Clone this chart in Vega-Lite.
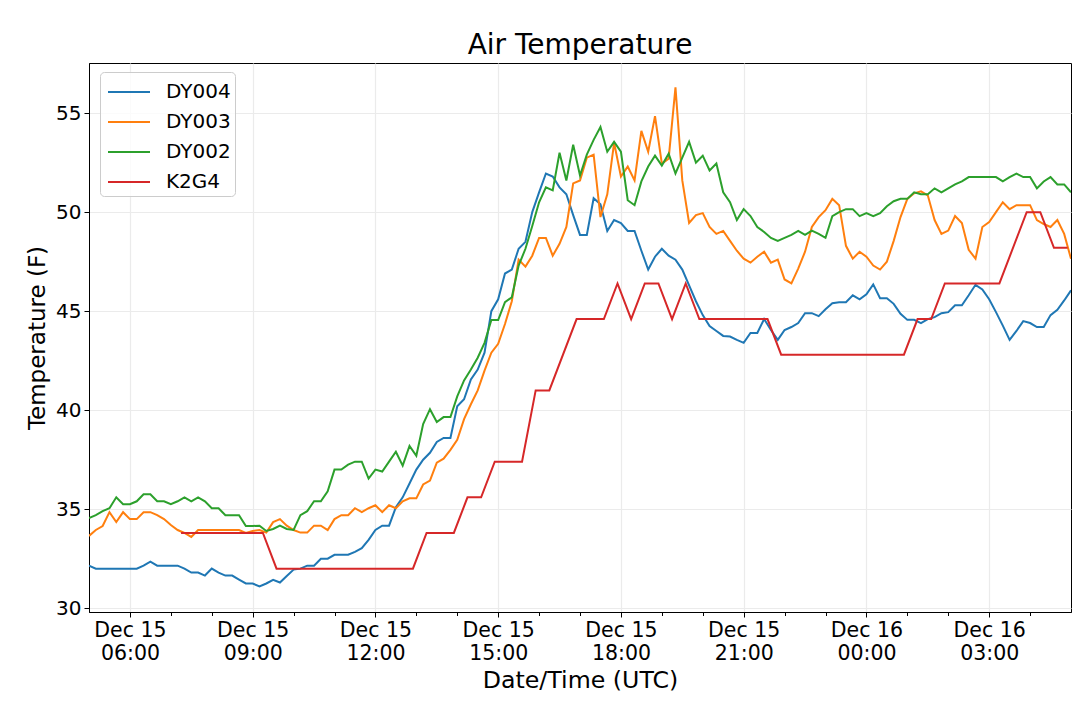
{
  "$schema": "https://vega.github.io/schema/vega-lite/v6.json",
  "width": 982,
  "height": 549,
  "autosize": {"type": "none"},
  "padding": {"left": 89, "top": 63, "right": 9, "bottom": 91},
  "background": "white",
  "title": {"text": "Air Temperature", "fontSize": 28, "fontWeight": "normal", "color": "black", "offset": 3, "anchor": "middle"},
  "data": {
    "format": {"parse": {"t": "utc:'%m-%d %H:%M'"}},
    "values": [
      {"s":"DY004","t":"12-15 05:00","v":32.15},{"s":"DY004","t":"12-15 05:10","v":32.0},{"s":"DY004","t":"12-15 05:20","v":32.0},{"s":"DY004","t":"12-15 05:30","v":32.0},{"s":"DY004","t":"12-15 05:40","v":32.0},{"s":"DY004","t":"12-15 05:50","v":32.0},
      {"s":"DY004","t":"12-15 06:00","v":32.0},{"s":"DY004","t":"12-15 06:10","v":32.0},{"s":"DY004","t":"12-15 06:20","v":32.15},{"s":"DY004","t":"12-15 06:30","v":32.35},{"s":"DY004","t":"12-15 06:40","v":32.15},{"s":"DY004","t":"12-15 06:50","v":32.15},
      {"s":"DY004","t":"12-15 07:00","v":32.15},{"s":"DY004","t":"12-15 07:10","v":32.15},{"s":"DY004","t":"12-15 07:20","v":32.0},{"s":"DY004","t":"12-15 07:30","v":31.8},{"s":"DY004","t":"12-15 07:40","v":31.8},{"s":"DY004","t":"12-15 07:50","v":31.65},
      {"s":"DY004","t":"12-15 08:00","v":32.0},{"s":"DY004","t":"12-15 08:10","v":31.8},{"s":"DY004","t":"12-15 08:20","v":31.65},{"s":"DY004","t":"12-15 08:30","v":31.65},{"s":"DY004","t":"12-15 08:40","v":31.45},{"s":"DY004","t":"12-15 08:50","v":31.25},
      {"s":"DY004","t":"12-15 09:00","v":31.25},{"s":"DY004","t":"12-15 09:10","v":31.1},{"s":"DY004","t":"12-15 09:20","v":31.25},{"s":"DY004","t":"12-15 09:30","v":31.43},{"s":"DY004","t":"12-15 09:40","v":31.3},{"s":"DY004","t":"12-15 09:50","v":31.63},
      {"s":"DY004","t":"12-15 10:00","v":31.95},{"s":"DY004","t":"12-15 10:10","v":32.0},{"s":"DY004","t":"12-15 10:20","v":32.15},{"s":"DY004","t":"12-15 10:30","v":32.15},{"s":"DY004","t":"12-15 10:40","v":32.5},{"s":"DY004","t":"12-15 10:50","v":32.5},
      {"s":"DY004","t":"12-15 11:00","v":32.7},{"s":"DY004","t":"12-15 11:10","v":32.7},{"s":"DY004","t":"12-15 11:20","v":32.7},{"s":"DY004","t":"12-15 11:30","v":32.85},{"s":"DY004","t":"12-15 11:40","v":33.03},{"s":"DY004","t":"12-15 11:50","v":33.45},
      {"s":"DY004","t":"12-15 12:00","v":33.95},{"s":"DY004","t":"12-15 12:10","v":34.17},{"s":"DY004","t":"12-15 12:20","v":34.17},{"s":"DY004","t":"12-15 12:30","v":35.1},{"s":"DY004","t":"12-15 12:40","v":35.6},{"s":"DY004","t":"12-15 12:50","v":36.3},
      {"s":"DY004","t":"12-15 13:00","v":37.0},{"s":"DY004","t":"12-15 13:10","v":37.5},{"s":"DY004","t":"12-15 13:20","v":37.85},{"s":"DY004","t":"12-15 13:30","v":38.4},{"s":"DY004","t":"12-15 13:40","v":38.6},{"s":"DY004","t":"12-15 13:50","v":38.6},
      {"s":"DY004","t":"12-15 14:00","v":40.2},{"s":"DY004","t":"12-15 14:10","v":40.55},{"s":"DY004","t":"12-15 14:20","v":41.55},{"s":"DY004","t":"12-15 14:30","v":42.05},{"s":"DY004","t":"12-15 14:40","v":42.9},{"s":"DY004","t":"12-15 14:50","v":45.0},
      {"s":"DY004","t":"12-15 15:00","v":45.6},{"s":"DY004","t":"12-15 15:10","v":46.9},{"s":"DY004","t":"12-15 15:20","v":47.1},{"s":"DY004","t":"12-15 15:30","v":48.15},{"s":"DY004","t":"12-15 15:40","v":48.5},{"s":"DY004","t":"12-15 15:50","v":50.0},
      {"s":"DY004","t":"12-15 16:00","v":51.0},{"s":"DY004","t":"12-15 16:10","v":51.95},{"s":"DY004","t":"12-15 16:20","v":51.8},{"s":"DY004","t":"12-15 16:30","v":51.25},{"s":"DY004","t":"12-15 16:40","v":50.9},{"s":"DY004","t":"12-15 16:50","v":49.85},
      {"s":"DY004","t":"12-15 17:00","v":48.85},{"s":"DY004","t":"12-15 17:10","v":48.85},{"s":"DY004","t":"12-15 17:20","v":50.7},{"s":"DY004","t":"12-15 17:30","v":50.4},{"s":"DY004","t":"12-15 17:40","v":49.05},{"s":"DY004","t":"12-15 17:50","v":49.6},
      {"s":"DY004","t":"12-15 18:00","v":49.45},{"s":"DY004","t":"12-15 18:10","v":49.05},{"s":"DY004","t":"12-15 18:20","v":49.05},{"s":"DY004","t":"12-15 18:30","v":48.05},{"s":"DY004","t":"12-15 18:40","v":47.1},{"s":"DY004","t":"12-15 18:50","v":47.75},
      {"s":"DY004","t":"12-15 19:00","v":48.15},{"s":"DY004","t":"12-15 19:10","v":47.8},{"s":"DY004","t":"12-15 19:20","v":47.6},{"s":"DY004","t":"12-15 19:30","v":47.1},{"s":"DY004","t":"12-15 19:40","v":46.3},{"s":"DY004","t":"12-15 19:50","v":45.5},
      {"s":"DY004","t":"12-15 20:00","v":44.8},{"s":"DY004","t":"12-15 20:10","v":44.25},{"s":"DY004","t":"12-15 20:20","v":44.0},{"s":"DY004","t":"12-15 20:30","v":43.75},{"s":"DY004","t":"12-15 20:40","v":43.72},{"s":"DY004","t":"12-15 20:50","v":43.55},
      {"s":"DY004","t":"12-15 21:00","v":43.4},{"s":"DY004","t":"12-15 21:10","v":43.9},{"s":"DY004","t":"12-15 21:20","v":43.9},{"s":"DY004","t":"12-15 21:30","v":44.6},{"s":"DY004","t":"12-15 21:40","v":44.05},{"s":"DY004","t":"12-15 21:50","v":43.55},
      {"s":"DY004","t":"12-15 22:00","v":44.05},{"s":"DY004","t":"12-15 22:10","v":44.2},{"s":"DY004","t":"12-15 22:20","v":44.4},{"s":"DY004","t":"12-15 22:30","v":44.9},{"s":"DY004","t":"12-15 22:40","v":44.9},{"s":"DY004","t":"12-15 22:50","v":44.75},
      {"s":"DY004","t":"12-15 23:00","v":45.1},{"s":"DY004","t":"12-15 23:10","v":45.4},{"s":"DY004","t":"12-15 23:20","v":45.45},{"s":"DY004","t":"12-15 23:30","v":45.45},{"s":"DY004","t":"12-15 23:40","v":45.8},{"s":"DY004","t":"12-15 23:50","v":45.6},
      {"s":"DY004","t":"12-16 00:00","v":45.85},{"s":"DY004","t":"12-16 00:10","v":46.35},{"s":"DY004","t":"12-16 00:20","v":45.65},{"s":"DY004","t":"12-16 00:30","v":45.65},{"s":"DY004","t":"12-16 00:40","v":45.37},{"s":"DY004","t":"12-16 00:50","v":44.87},
      {"s":"DY004","t":"12-16 01:00","v":44.56},{"s":"DY004","t":"12-16 01:10","v":44.56},{"s":"DY004","t":"12-16 01:20","v":44.4},{"s":"DY004","t":"12-16 01:30","v":44.6},{"s":"DY004","t":"12-16 01:40","v":44.7},{"s":"DY004","t":"12-16 01:50","v":44.9},
      {"s":"DY004","t":"12-16 02:00","v":44.95},{"s":"DY004","t":"12-16 02:10","v":45.3},{"s":"DY004","t":"12-16 02:20","v":45.3},{"s":"DY004","t":"12-16 02:30","v":45.8},{"s":"DY004","t":"12-16 02:40","v":46.33},{"s":"DY004","t":"12-16 02:50","v":46.1},
      {"s":"DY004","t":"12-16 03:00","v":45.6},{"s":"DY004","t":"12-16 03:10","v":44.95},{"s":"DY004","t":"12-16 03:20","v":44.27},{"s":"DY004","t":"12-16 03:30","v":43.55},{"s":"DY004","t":"12-16 03:40","v":44.0},{"s":"DY004","t":"12-16 03:50","v":44.5},
      {"s":"DY004","t":"12-16 04:00","v":44.4},{"s":"DY004","t":"12-16 04:10","v":44.2},{"s":"DY004","t":"12-16 04:20","v":44.2},{"s":"DY004","t":"12-16 04:30","v":44.8},{"s":"DY004","t":"12-16 04:40","v":45.07},{"s":"DY004","t":"12-16 04:50","v":45.54},
      {"s":"DY004","t":"12-16 05:00","v":46.05},

      {"s":"DY003","t":"12-15 05:00","v":33.65},{"s":"DY003","t":"12-15 05:10","v":33.95},{"s":"DY003","t":"12-15 05:20","v":34.15},{"s":"DY003","t":"12-15 05:30","v":34.85},{"s":"DY003","t":"12-15 05:40","v":34.35},{"s":"DY003","t":"12-15 05:50","v":34.85},
      {"s":"DY003","t":"12-15 06:00","v":34.5},{"s":"DY003","t":"12-15 06:10","v":34.5},{"s":"DY003","t":"12-15 06:20","v":34.85},{"s":"DY003","t":"12-15 06:30","v":34.85},{"s":"DY003","t":"12-15 06:40","v":34.7},{"s":"DY003","t":"12-15 06:50","v":34.5},
      {"s":"DY003","t":"12-15 07:00","v":34.2},{"s":"DY003","t":"12-15 07:10","v":33.95},{"s":"DY003","t":"12-15 07:20","v":33.8},{"s":"DY003","t":"12-15 07:30","v":33.6},{"s":"DY003","t":"12-15 07:40","v":33.95},{"s":"DY003","t":"12-15 07:50","v":33.95},
      {"s":"DY003","t":"12-15 08:00","v":33.95},{"s":"DY003","t":"12-15 08:10","v":33.95},{"s":"DY003","t":"12-15 08:20","v":33.95},{"s":"DY003","t":"12-15 08:30","v":33.95},{"s":"DY003","t":"12-15 08:40","v":33.95},{"s":"DY003","t":"12-15 08:50","v":33.8},
      {"s":"DY003","t":"12-15 09:00","v":33.9},{"s":"DY003","t":"12-15 09:10","v":33.95},{"s":"DY003","t":"12-15 09:20","v":33.82},{"s":"DY003","t":"12-15 09:30","v":34.35},{"s":"DY003","t":"12-15 09:40","v":34.5},{"s":"DY003","t":"12-15 09:50","v":34.17},
      {"s":"DY003","t":"12-15 10:00","v":33.95},{"s":"DY003","t":"12-15 10:10","v":33.82},{"s":"DY003","t":"12-15 10:20","v":33.82},{"s":"DY003","t":"12-15 10:30","v":34.17},{"s":"DY003","t":"12-15 10:40","v":34.17},{"s":"DY003","t":"12-15 10:50","v":33.95},
      {"s":"DY003","t":"12-15 11:00","v":34.5},{"s":"DY003","t":"12-15 11:10","v":34.7},{"s":"DY003","t":"12-15 11:20","v":34.7},{"s":"DY003","t":"12-15 11:30","v":35.05},{"s":"DY003","t":"12-15 11:40","v":34.85},{"s":"DY003","t":"12-15 11:50","v":35.05},
      {"s":"DY003","t":"12-15 12:00","v":35.2},{"s":"DY003","t":"12-15 12:10","v":34.85},{"s":"DY003","t":"12-15 12:20","v":35.2},{"s":"DY003","t":"12-15 12:30","v":35.05},{"s":"DY003","t":"12-15 12:40","v":35.4},{"s":"DY003","t":"12-15 12:50","v":35.55},
      {"s":"DY003","t":"12-15 13:00","v":35.55},{"s":"DY003","t":"12-15 13:10","v":36.25},{"s":"DY003","t":"12-15 13:20","v":36.45},{"s":"DY003","t":"12-15 13:30","v":37.35},{"s":"DY003","t":"12-15 13:40","v":37.55},{"s":"DY003","t":"12-15 13:50","v":38.0},
      {"s":"DY003","t":"12-15 14:00","v":38.5},{"s":"DY003","t":"12-15 14:10","v":39.55},{"s":"DY003","t":"12-15 14:20","v":40.3},{"s":"DY003","t":"12-15 14:30","v":41.0},{"s":"DY003","t":"12-15 14:40","v":42.0},{"s":"DY003","t":"12-15 14:50","v":42.9},
      {"s":"DY003","t":"12-15 15:00","v":43.35},{"s":"DY003","t":"12-15 15:10","v":44.35},{"s":"DY003","t":"12-15 15:20","v":45.5},{"s":"DY003","t":"12-15 15:30","v":47.6},{"s":"DY003","t":"12-15 15:40","v":47.25},{"s":"DY003","t":"12-15 15:50","v":47.8},
      {"s":"DY003","t":"12-15 16:00","v":48.7},{"s":"DY003","t":"12-15 16:10","v":48.7},{"s":"DY003","t":"12-15 16:20","v":47.8},{"s":"DY003","t":"12-15 16:30","v":48.4},{"s":"DY003","t":"12-15 16:40","v":49.25},{"s":"DY003","t":"12-15 16:50","v":51.45},
      {"s":"DY003","t":"12-15 17:00","v":51.6},{"s":"DY003","t":"12-15 17:10","v":52.75},{"s":"DY003","t":"12-15 17:20","v":52.9},{"s":"DY003","t":"12-15 17:30","v":49.75},{"s":"DY003","t":"12-15 17:40","v":50.9},{"s":"DY003","t":"12-15 17:50","v":53.5},
      {"s":"DY003","t":"12-15 18:00","v":51.8},{"s":"DY003","t":"12-15 18:10","v":52.3},{"s":"DY003","t":"12-15 18:20","v":51.6},{"s":"DY003","t":"12-15 18:30","v":54.1},{"s":"DY003","t":"12-15 18:40","v":53.05},{"s":"DY003","t":"12-15 18:50","v":54.85},
      {"s":"DY003","t":"12-15 19:00","v":52.45},{"s":"DY003","t":"12-15 19:10","v":52.7},{"s":"DY003","t":"12-15 19:20","v":56.3},{"s":"DY003","t":"12-15 19:30","v":51.6},{"s":"DY003","t":"12-15 19:40","v":49.45},{"s":"DY003","t":"12-15 19:50","v":49.85},
      {"s":"DY003","t":"12-15 20:00","v":49.95},{"s":"DY003","t":"12-15 20:10","v":49.25},{"s":"DY003","t":"12-15 20:20","v":48.9},{"s":"DY003","t":"12-15 20:30","v":49.05},{"s":"DY003","t":"12-15 20:40","v":48.55},{"s":"DY003","t":"12-15 20:50","v":48.05},
      {"s":"DY003","t":"12-15 21:00","v":47.65},{"s":"DY003","t":"12-15 21:10","v":47.45},{"s":"DY003","t":"12-15 21:20","v":47.75},{"s":"DY003","t":"12-15 21:30","v":48.0},{"s":"DY003","t":"12-15 21:40","v":47.45},{"s":"DY003","t":"12-15 21:50","v":47.6},
      {"s":"DY003","t":"12-15 22:00","v":46.6},{"s":"DY003","t":"12-15 22:10","v":46.4},{"s":"DY003","t":"12-15 22:20","v":47.15},{"s":"DY003","t":"12-15 22:30","v":48.0},{"s":"DY003","t":"12-15 22:40","v":49.25},{"s":"DY003","t":"12-15 22:50","v":49.75},
      {"s":"DY003","t":"12-15 23:00","v":50.1},{"s":"DY003","t":"12-15 23:10","v":50.67},{"s":"DY003","t":"12-15 23:20","v":50.35},{"s":"DY003","t":"12-15 23:30","v":48.3},{"s":"DY003","t":"12-15 23:40","v":47.65},{"s":"DY003","t":"12-15 23:50","v":48.0},
      {"s":"DY003","t":"12-16 00:00","v":47.75},{"s":"DY003","t":"12-16 00:10","v":47.3},{"s":"DY003","t":"12-16 00:20","v":47.1},{"s":"DY003","t":"12-16 00:30","v":47.5},{"s":"DY003","t":"12-16 00:40","v":48.55},{"s":"DY003","t":"12-16 00:50","v":49.75},
      {"s":"DY003","t":"12-16 01:00","v":50.67},{"s":"DY003","t":"12-16 01:10","v":50.95},{"s":"DY003","t":"12-16 01:20","v":51.05},{"s":"DY003","t":"12-16 01:30","v":50.85},{"s":"DY003","t":"12-16 01:40","v":49.6},{"s":"DY003","t":"12-16 01:50","v":48.9},
      {"s":"DY003","t":"12-16 02:00","v":49.07},{"s":"DY003","t":"12-16 02:10","v":49.8},{"s":"DY003","t":"12-16 02:20","v":49.45},{"s":"DY003","t":"12-16 02:30","v":48.1},{"s":"DY003","t":"12-16 02:40","v":47.65},{"s":"DY003","t":"12-16 02:50","v":49.25},
      {"s":"DY003","t":"12-16 03:00","v":49.5},{"s":"DY003","t":"12-16 03:10","v":50.0},{"s":"DY003","t":"12-16 03:20","v":50.5},{"s":"DY003","t":"12-16 03:30","v":50.15},{"s":"DY003","t":"12-16 03:40","v":50.35},{"s":"DY003","t":"12-16 03:50","v":50.35},
      {"s":"DY003","t":"12-16 04:00","v":50.35},{"s":"DY003","t":"12-16 04:10","v":49.6},{"s":"DY003","t":"12-16 04:20","v":49.4},{"s":"DY003","t":"12-16 04:30","v":49.25},{"s":"DY003","t":"12-16 04:40","v":49.6},{"s":"DY003","t":"12-16 04:50","v":48.9},
      {"s":"DY003","t":"12-16 05:00","v":47.65},

      {"s":"DY002","t":"12-15 05:00","v":34.55},{"s":"DY002","t":"12-15 05:10","v":34.7},{"s":"DY002","t":"12-15 05:20","v":34.9},{"s":"DY002","t":"12-15 05:30","v":35.05},{"s":"DY002","t":"12-15 05:40","v":35.6},{"s":"DY002","t":"12-15 05:50","v":35.25},
      {"s":"DY002","t":"12-15 06:00","v":35.25},{"s":"DY002","t":"12-15 06:10","v":35.4},{"s":"DY002","t":"12-15 06:20","v":35.75},{"s":"DY002","t":"12-15 06:30","v":35.75},{"s":"DY002","t":"12-15 06:40","v":35.4},{"s":"DY002","t":"12-15 06:50","v":35.4},
      {"s":"DY002","t":"12-15 07:00","v":35.25},{"s":"DY002","t":"12-15 07:10","v":35.4},{"s":"DY002","t":"12-15 07:20","v":35.6},{"s":"DY002","t":"12-15 07:30","v":35.4},{"s":"DY002","t":"12-15 07:40","v":35.6},{"s":"DY002","t":"12-15 07:50","v":35.4},
      {"s":"DY002","t":"12-15 08:00","v":35.05},{"s":"DY002","t":"12-15 08:10","v":35.05},{"s":"DY002","t":"12-15 08:20","v":34.7},{"s":"DY002","t":"12-15 08:30","v":34.7},{"s":"DY002","t":"12-15 08:40","v":34.7},{"s":"DY002","t":"12-15 08:50","v":34.15},
      {"s":"DY002","t":"12-15 09:00","v":34.15},{"s":"DY002","t":"12-15 09:10","v":34.17},{"s":"DY002","t":"12-15 09:20","v":33.9},{"s":"DY002","t":"12-15 09:30","v":34.0},{"s":"DY002","t":"12-15 09:40","v":34.17},{"s":"DY002","t":"12-15 09:50","v":34.0},
      {"s":"DY002","t":"12-15 10:00","v":33.95},{"s":"DY002","t":"12-15 10:10","v":34.7},{"s":"DY002","t":"12-15 10:20","v":34.9},{"s":"DY002","t":"12-15 10:30","v":35.4},{"s":"DY002","t":"12-15 10:40","v":35.4},{"s":"DY002","t":"12-15 10:50","v":35.9},
      {"s":"DY002","t":"12-15 11:00","v":37.0},{"s":"DY002","t":"12-15 11:10","v":37.0},{"s":"DY002","t":"12-15 11:20","v":37.25},{"s":"DY002","t":"12-15 11:30","v":37.4},{"s":"DY002","t":"12-15 11:40","v":37.4},{"s":"DY002","t":"12-15 11:50","v":36.55},
      {"s":"DY002","t":"12-15 12:00","v":37.0},{"s":"DY002","t":"12-15 12:10","v":36.9},{"s":"DY002","t":"12-15 12:20","v":37.4},{"s":"DY002","t":"12-15 12:30","v":37.9},{"s":"DY002","t":"12-15 12:40","v":37.2},{"s":"DY002","t":"12-15 12:50","v":38.2},
      {"s":"DY002","t":"12-15 13:00","v":37.7},{"s":"DY002","t":"12-15 13:10","v":39.3},{"s":"DY002","t":"12-15 13:20","v":40.05},{"s":"DY002","t":"12-15 13:30","v":39.4},{"s":"DY002","t":"12-15 13:40","v":39.65},{"s":"DY002","t":"12-15 13:50","v":39.65},
      {"s":"DY002","t":"12-15 14:00","v":40.7},{"s":"DY002","t":"12-15 14:10","v":41.5},{"s":"DY002","t":"12-15 14:20","v":42.05},{"s":"DY002","t":"12-15 14:30","v":42.65},{"s":"DY002","t":"12-15 14:40","v":43.4},{"s":"DY002","t":"12-15 14:50","v":44.55},
      {"s":"DY002","t":"12-15 15:00","v":44.55},{"s":"DY002","t":"12-15 15:10","v":45.45},{"s":"DY002","t":"12-15 15:20","v":45.7},{"s":"DY002","t":"12-15 15:30","v":47.3},{"s":"DY002","t":"12-15 15:40","v":48.15},{"s":"DY002","t":"12-15 15:50","v":49.3},
      {"s":"DY002","t":"12-15 16:00","v":50.5},{"s":"DY002","t":"12-15 16:10","v":51.25},{"s":"DY002","t":"12-15 16:20","v":51.1},{"s":"DY002","t":"12-15 16:30","v":53.0},{"s":"DY002","t":"12-15 16:40","v":51.6},{"s":"DY002","t":"12-15 16:50","v":53.4},
      {"s":"DY002","t":"12-15 17:00","v":51.85},{"s":"DY002","t":"12-15 17:10","v":52.9},{"s":"DY002","t":"12-15 17:20","v":53.65},{"s":"DY002","t":"12-15 17:30","v":54.3},{"s":"DY002","t":"12-15 17:40","v":53.05},{"s":"DY002","t":"12-15 17:50","v":53.55},
      {"s":"DY002","t":"12-15 18:00","v":53.05},{"s":"DY002","t":"12-15 18:10","v":50.6},{"s":"DY002","t":"12-15 18:20","v":50.35},{"s":"DY002","t":"12-15 18:30","v":51.55},{"s":"DY002","t":"12-15 18:40","v":52.3},{"s":"DY002","t":"12-15 18:50","v":52.85},
      {"s":"DY002","t":"12-15 19:00","v":52.35},{"s":"DY002","t":"12-15 19:10","v":52.95},{"s":"DY002","t":"12-15 19:20","v":51.95},{"s":"DY002","t":"12-15 19:30","v":52.75},{"s":"DY002","t":"12-15 19:40","v":53.55},{"s":"DY002","t":"12-15 19:50","v":52.5},
      {"s":"DY002","t":"12-15 20:00","v":52.85},{"s":"DY002","t":"12-15 20:10","v":52.1},{"s":"DY002","t":"12-15 20:20","v":52.45},{"s":"DY002","t":"12-15 20:30","v":51.0},{"s":"DY002","t":"12-15 20:40","v":50.5},{"s":"DY002","t":"12-15 20:50","v":49.6},
      {"s":"DY002","t":"12-15 21:00","v":50.15},{"s":"DY002","t":"12-15 21:10","v":49.8},{"s":"DY002","t":"12-15 21:20","v":49.25},{"s":"DY002","t":"12-15 21:30","v":49.0},{"s":"DY002","t":"12-15 21:40","v":48.7},{"s":"DY002","t":"12-15 21:50","v":48.55},
      {"s":"DY002","t":"12-15 22:00","v":48.7},{"s":"DY002","t":"12-15 22:10","v":48.85},{"s":"DY002","t":"12-15 22:20","v":49.05},{"s":"DY002","t":"12-15 22:30","v":48.85},{"s":"DY002","t":"12-15 22:40","v":49.07},{"s":"DY002","t":"12-15 22:50","v":48.9},
      {"s":"DY002","t":"12-15 23:00","v":48.7},{"s":"DY002","t":"12-15 23:10","v":49.8},{"s":"DY002","t":"12-15 23:20","v":50.0},{"s":"DY002","t":"12-15 23:30","v":50.15},{"s":"DY002","t":"12-15 23:40","v":50.15},{"s":"DY002","t":"12-15 23:50","v":49.8},
      {"s":"DY002","t":"12-16 00:00","v":49.95},{"s":"DY002","t":"12-16 00:10","v":49.8},{"s":"DY002","t":"12-16 00:20","v":49.95},{"s":"DY002","t":"12-16 00:30","v":50.3},{"s":"DY002","t":"12-16 00:40","v":50.55},{"s":"DY002","t":"12-16 00:50","v":50.67},
      {"s":"DY002","t":"12-16 01:00","v":50.67},{"s":"DY002","t":"12-16 01:10","v":51.0},{"s":"DY002","t":"12-16 01:20","v":50.9},{"s":"DY002","t":"12-16 01:30","v":50.9},{"s":"DY002","t":"12-16 01:40","v":51.2},{"s":"DY002","t":"12-16 01:50","v":51.0},
      {"s":"DY002","t":"12-16 02:00","v":51.2},{"s":"DY002","t":"12-16 02:10","v":51.4},{"s":"DY002","t":"12-16 02:20","v":51.55},{"s":"DY002","t":"12-16 02:30","v":51.77},{"s":"DY002","t":"12-16 02:40","v":51.77},{"s":"DY002","t":"12-16 02:50","v":51.77},
      {"s":"DY002","t":"12-16 03:00","v":51.77},{"s":"DY002","t":"12-16 03:10","v":51.77},{"s":"DY002","t":"12-16 03:20","v":51.55},{"s":"DY002","t":"12-16 03:30","v":51.77},{"s":"DY002","t":"12-16 03:40","v":51.95},{"s":"DY002","t":"12-16 03:50","v":51.77},
      {"s":"DY002","t":"12-16 04:00","v":51.77},{"s":"DY002","t":"12-16 04:10","v":51.2},{"s":"DY002","t":"12-16 04:20","v":51.55},{"s":"DY002","t":"12-16 04:30","v":51.77},{"s":"DY002","t":"12-16 04:40","v":51.4},{"s":"DY002","t":"12-16 04:50","v":51.4},
      {"s":"DY002","t":"12-16 05:00","v":51.0},

      {"s":"K2G4","t":"12-15 07:15","v":33.8},{"s":"K2G4","t":"12-15 09:15","v":33.8},{"s":"K2G4","t":"12-15 09:35","v":32.0},{"s":"K2G4","t":"12-15 12:55","v":32.0},
      {"s":"K2G4","t":"12-15 13:15","v":33.8},{"s":"K2G4","t":"12-15 13:55","v":33.8},{"s":"K2G4","t":"12-15 14:15","v":35.6},{"s":"K2G4","t":"12-15 14:35","v":35.6},
      {"s":"K2G4","t":"12-15 14:55","v":37.4},{"s":"K2G4","t":"12-15 15:35","v":37.4},{"s":"K2G4","t":"12-15 15:55","v":41.0},{"s":"K2G4","t":"12-15 16:15","v":41.0},
      {"s":"K2G4","t":"12-15 16:55","v":44.6},{"s":"K2G4","t":"12-15 17:35","v":44.6},{"s":"K2G4","t":"12-15 17:55","v":46.4},{"s":"K2G4","t":"12-15 18:15","v":44.6},
      {"s":"K2G4","t":"12-15 18:35","v":46.4},{"s":"K2G4","t":"12-15 18:55","v":46.4},{"s":"K2G4","t":"12-15 19:15","v":44.6},{"s":"K2G4","t":"12-15 19:35","v":46.4},
      {"s":"K2G4","t":"12-15 19:55","v":44.6},{"s":"K2G4","t":"12-15 21:35","v":44.6},{"s":"K2G4","t":"12-15 21:55","v":42.8},{"s":"K2G4","t":"12-16 00:55","v":42.8},
      {"s":"K2G4","t":"12-16 01:15","v":44.6},{"s":"K2G4","t":"12-16 01:35","v":44.6},{"s":"K2G4","t":"12-16 01:55","v":46.4},{"s":"K2G4","t":"12-16 03:15","v":46.4},
      {"s":"K2G4","t":"12-16 03:55","v":50.0},{"s":"K2G4","t":"12-16 04:15","v":50.0},{"s":"K2G4","t":"12-16 04:35","v":48.2},{"s":"K2G4","t":"12-16 04:55","v":48.2}
    ]
  },
  "resolve": {"axis": {"x": "independent"}},
  "layer": [
    {
      "mark": {"type": "line", "strokeWidth": 2, "clip": true},
      "encoding": {
        "x": {
          "field": "t",
          "type": "temporal",
          "scale": {"type": "utc", "nice": false},
          "axis": {
            "title": "Date/Time (UTC)",
            "orient": "bottom",
            "values": [
              {"year": 1900, "month": 12, "date": 15, "hours": 6, "utc": true},
              {"year": 1900, "month": 12, "date": 15, "hours": 9, "utc": true},
              {"year": 1900, "month": 12, "date": 15, "hours": 12, "utc": true},
              {"year": 1900, "month": 12, "date": 15, "hours": 15, "utc": true},
              {"year": 1900, "month": 12, "date": 15, "hours": 18, "utc": true},
              {"year": 1900, "month": 12, "date": 15, "hours": 21, "utc": true},
              {"year": 1900, "month": 12, "date": 16, "hours": 0, "utc": true},
              {"year": 1900, "month": 12, "date": 16, "hours": 3, "utc": true}
            ],
            "labelExpr": "[utcFormat(datum.value, '%b %d'), utcFormat(datum.value, '%H:%M')]",
            "labelFontSize": 20.5,
            "labelLineHeight": 23,
            "labelBaseline": "top",
            "labelPadding": 3,
            "labelFlush": false,
            "labelOverlap": false,
            "titleFontSize": 23.7,
            "titlePadding": 5
          }
        },
        "y": {
          "field": "v",
          "type": "quantitative",
          "scale": {"domain": [29.81, 57.53], "nice": false, "zero": false},
          "axis": {"title": "Temperature (F)", "values": [30, 35, 40, 45, 50, 55], "labelPadding": 3, "titlePadding": 6}
        },
        "color": {
          "field": "s",
          "type": "nominal",
          "scale": {"domain": ["DY004", "DY003", "DY002", "K2G4"], "range": ["#1f77b4", "#ff7f0e", "#2ca02c", "#d62728"]},
          "legend": {
            "title": null,
            "orient": "none",
            "legendX": 11,
            "legendY": 9,
            "symbolType": "M-1.4,0H1.4",
            "symbolSize": 900,
            "symbolStrokeWidth": 2,
            "symbolOffset": 9,
            "labelFontSize": 20,
            "labelColor": "black",
            "labelOffset": 21,
            "rowPadding": 4,
            "padding": 4,
            "fillColor": "rgba(255,255,255,0.8)",
            "strokeColor": "#cccccc",
            "cornerRadius": 4
          }
        }
      }
    },
    {
      "mark": {"type": "point", "opacity": 0},
      "encoding": {
        "x": {
          "field": "t",
          "type": "temporal",
          "axis": {
            "orient": "bottom",
            "title": null,
            "values": [
              {"year": 1900, "month": 12, "date": 15, "hours": 7, "utc": true},
              {"year": 1900, "month": 12, "date": 15, "hours": 8, "utc": true},
              {"year": 1900, "month": 12, "date": 15, "hours": 10, "utc": true},
              {"year": 1900, "month": 12, "date": 15, "hours": 11, "utc": true},
              {"year": 1900, "month": 12, "date": 15, "hours": 13, "utc": true},
              {"year": 1900, "month": 12, "date": 15, "hours": 14, "utc": true},
              {"year": 1900, "month": 12, "date": 15, "hours": 16, "utc": true},
              {"year": 1900, "month": 12, "date": 15, "hours": 17, "utc": true},
              {"year": 1900, "month": 12, "date": 15, "hours": 19, "utc": true},
              {"year": 1900, "month": 12, "date": 15, "hours": 20, "utc": true},
              {"year": 1900, "month": 12, "date": 15, "hours": 22, "utc": true},
              {"year": 1900, "month": 12, "date": 15, "hours": 23, "utc": true},
              {"year": 1900, "month": 12, "date": 16, "hours": 1, "utc": true},
              {"year": 1900, "month": 12, "date": 16, "hours": 2, "utc": true},
              {"year": 1900, "month": 12, "date": 16, "hours": 4, "utc": true}
            ],
            "labels": false,
            "grid": false,
            "domain": false,
            "tickSize": 3.5
          }
        }
      }
    }
  ],
  "config": {
    "font": "DejaVu Sans",
    "view": {"stroke": "black", "strokeWidth": 1},
    "axis": {
      "domainColor": "black",
      "domainWidth": 1,
      "tickColor": "black",
      "tickWidth": 1,
      "tickSize": 5,
      "labelColor": "black",
      "labelFontSize": 20,
      "titleColor": "black",
      "titleFontSize": 23,
      "titleFontWeight": "normal",
      "gridColor": "#ebebeb",
      "gridWidth": 1.2
    }
  }
}
